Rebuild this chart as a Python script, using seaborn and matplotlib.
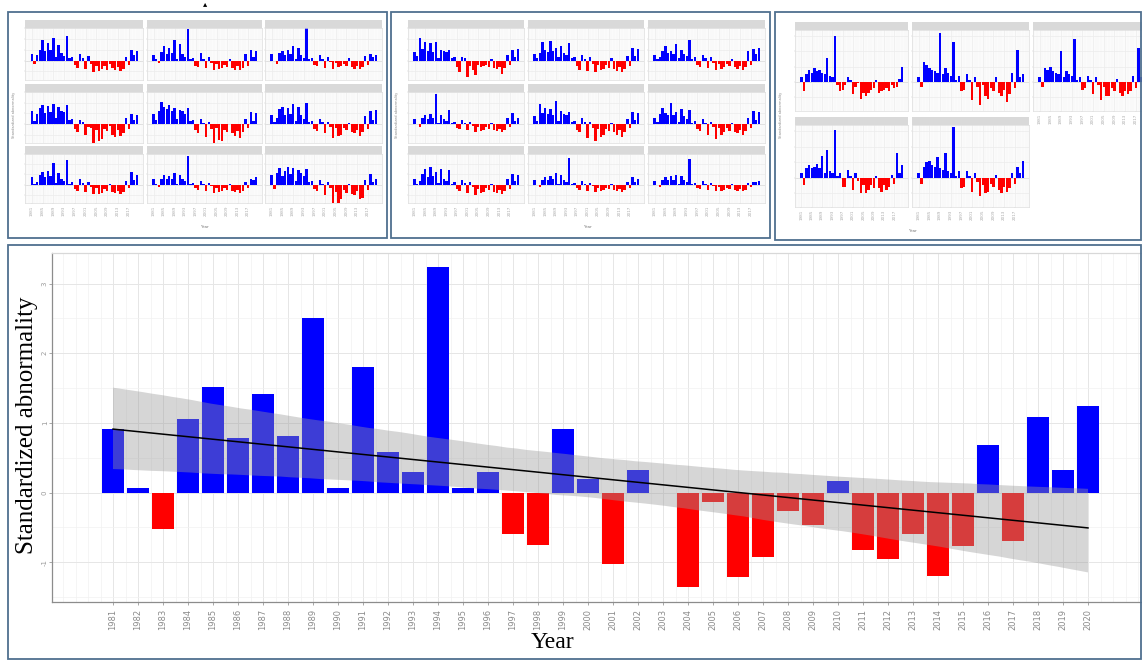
import numpy as np
import pandas as pd
import matplotlib
matplotlib.use("Agg")
import matplotlib.pyplot as plt
from matplotlib.patches import Rectangle
from matplotlib.ticker import MultipleLocator
import seaborn as sns

# ---------------- data ----------------
years = list(range(1981, 2021))
main_values = [0.91, 0.06, -0.52, 1.06, 1.52, 0.78, 1.42, 0.82, 2.50, 0.07,
               1.81, 0.59, 0.30, 3.24, 0.06, 0.29, -0.59, -0.75, 0.92, 0.19,
               -1.02, 0.32, 0.00, -1.35, -0.13, -1.21, -0.92, -0.27, -0.47, 0.16,
               -0.83, -0.95, -0.60, -1.19, -0.76, 0.68, -0.70, 1.09, 0.33, 1.25]

a1 = [0.6,-0.3,0.5,1.0,1.9,0.9,1.6,1.0,2.1,0.3,1.4,0.7,0.4,2.3,0.2,0.3,-0.4,-0.7,0.6,0.2,-0.8,0.4,-0.3,-1.1,-0.5,-1.0,-0.8,-0.5,-0.9,-0.3,-0.7,-0.9,-0.6,-1.0,-0.8,0.3,-0.4,1.0,0.5,0.9]
a2 = [0.5,0.1,-0.2,0.8,1.3,0.6,1.2,0.7,1.9,0.1,1.5,0.6,0.3,2.9,0.1,0.2,-0.5,-0.6,0.7,0.1,-0.7,0.3,-0.2,-0.9,-0.3,-0.8,-0.7,-0.4,-0.6,0.1,-0.7,-0.9,-0.5,-0.9,-0.7,0.6,-0.5,1.0,0.3,0.9]
a3 = [0.6,0.0,-0.3,0.7,0.9,0.5,1.0,0.6,1.3,0.1,1.2,0.5,0.2,3.1,0.1,0.2,-0.4,-0.5,0.5,0.1,-0.7,0.3,-0.1,-0.8,-0.2,-0.6,-0.5,-0.3,-0.5,0.2,-0.6,-0.8,-0.5,-0.8,-0.6,0.4,-0.4,0.6,0.3,0.5]
a4 = [1.2,0.3,0.9,1.5,1.8,1.0,1.7,1.1,1.9,0.6,1.6,1.2,1.1,1.8,0.4,0.5,-0.5,-0.8,0.4,0.2,-1.0,-0.3,-0.4,-1.8,-0.6,-1.6,-1.4,-0.5,-0.7,-0.2,-1.0,-1.2,-0.6,-1.1,-0.9,0.6,-0.5,0.9,0.4,0.8]
a5 = [0.9,0.4,1.2,2.1,1.6,1.4,1.8,1.2,1.5,0.5,1.3,1.2,0.9,1.5,0.3,0.4,-0.6,-0.9,0.5,0.1,-1.2,0.2,-0.5,-1.9,-0.4,-1.5,-1.6,-0.6,-0.8,0.0,-0.9,-1.1,-0.7,-1.3,-0.8,0.5,-0.4,1.1,0.3,1.0]
a6 = [0.8,0.2,0.6,1.4,1.6,0.8,1.5,0.9,1.9,0.3,1.6,0.8,0.5,2.0,0.2,0.3,-0.5,-0.7,0.5,0.2,-0.9,0.2,-0.3,-1.3,-0.4,-1.1,-1.0,-0.4,-0.6,0.1,-0.8,-0.9,-0.6,-1.1,-0.8,0.7,-0.5,1.2,0.4,1.3]
a7 = [0.7,0.1,0.3,0.9,1.2,0.7,1.3,0.8,2.1,0.2,1.1,0.6,0.4,2.4,0.1,0.3,-0.4,-0.6,0.6,0.2,-0.7,0.3,-0.2,-0.9,-0.3,-0.9,-0.8,-0.4,-0.6,0.1,-0.7,-0.8,-0.6,-0.9,-0.7,0.4,-0.3,1.2,0.5,0.9]
a8 = [0.6,0.1,-0.2,0.6,0.9,0.6,0.8,0.6,1.1,0.1,0.9,0.6,0.4,2.8,0.1,0.2,-0.3,-0.5,0.4,0.1,-0.6,0.2,-0.1,-0.8,-0.3,-0.7,-0.6,-0.3,-0.5,0.1,-0.6,-0.7,-0.5,-0.8,-0.6,0.3,-0.3,0.6,0.5,0.7]
a9 = [0.9,-0.4,1.1,1.6,0.8,1.3,1.7,1.0,1.6,0.4,1.4,1.1,0.8,1.5,0.3,0.4,-0.4,-0.6,0.5,0.1,-1.0,0.3,-0.3,-2.0,-0.7,-1.9,-1.4,-0.5,-0.8,0.1,-0.9,-1.0,-0.6,-1.4,-1.3,0.5,-0.5,1.0,0.3,0.6]

b1 = [0.8,0.4,2.1,1.1,1.7,0.9,1.6,0.8,1.7,0.2,1.0,0.9,0.8,1.0,0.2,0.3,-0.6,-1.1,0.3,0.2,-1.5,-0.5,-0.9,-1.3,-0.4,-0.6,-0.5,-0.4,-0.6,0.1,-0.7,-0.8,-0.6,-1.2,-0.7,0.5,-0.4,1.0,0.3,1.1]
b2 = [0.6,0.2,0.7,1.7,1.0,0.8,1.8,0.9,1.2,0.3,1.3,0.7,0.5,1.6,0.2,0.3,-0.5,-0.9,0.5,0.1,-1.0,0.3,-0.3,-1.1,-0.4,-0.9,-0.8,-0.4,-0.7,0.2,-0.8,-1.0,-0.6,-1.1,-0.8,0.4,-0.5,1.2,0.4,1.1]
b3 = [0.5,0.1,0.3,0.9,1.3,0.7,0.9,0.6,1.5,0.2,1.0,0.6,0.4,1.9,0.1,0.3,-0.4,-0.6,0.5,0.2,-0.7,0.3,-0.2,-0.9,-0.3,-0.8,-0.6,-0.3,-0.5,0.1,-0.6,-0.8,-0.5,-0.9,-0.6,0.9,-0.4,1.1,0.6,1.2]
b4 = [0.5,0.0,-0.3,0.6,0.8,0.5,0.9,0.6,2.8,0.1,0.8,0.5,0.3,1.3,0.1,0.2,-0.4,-0.5,0.4,0.1,-0.6,0.2,-0.2,-0.8,-0.3,-0.7,-0.6,-0.3,-0.5,0.1,-0.6,-0.7,-0.5,-0.8,-0.6,0.6,-0.3,1.0,0.3,0.6]
b5 = [0.7,0.3,1.9,1.0,1.5,0.9,1.4,0.8,2.2,0.3,1.2,0.9,0.8,1.1,0.2,0.3,-0.6,-0.8,0.6,0.2,-1.3,0.2,-0.4,-1.6,-0.5,-1.2,-1.0,-0.5,-0.7,0.1,-0.8,-1.0,-0.6,-1.2,-0.8,0.5,-0.4,1.1,0.4,1.0]
b6 = [0.6,0.2,0.9,1.5,1.0,0.8,2.0,0.8,1.1,0.2,1.4,0.7,0.5,1.3,0.1,0.3,-0.5,-0.7,0.5,0.1,-1.0,0.2,-0.3,-1.4,-0.4,-1.0,-0.8,-0.4,-0.7,0.1,-0.8,-0.9,-0.6,-1.0,-0.7,0.6,-0.4,1.2,0.4,1.1]
b7 = [0.6,0.1,0.4,1.0,1.5,0.7,1.7,0.8,1.2,0.2,1.5,0.6,0.4,1.4,0.1,0.3,-0.4,-0.6,0.5,0.2,-0.8,0.3,-0.2,-1.0,-0.4,-0.8,-0.7,-0.3,-0.5,0.1,-0.7,-0.8,-0.5,-0.9,-0.6,0.6,-0.4,1.0,0.4,0.9]
b8 = [0.5,0.0,-0.2,0.5,0.7,0.5,0.8,0.6,1.1,0.1,0.9,0.5,0.3,2.6,0.1,0.2,-0.3,-0.5,0.4,0.1,-0.6,0.2,-0.1,-0.7,-0.3,-0.6,-0.5,-0.3,-0.4,0.1,-0.5,-0.6,-0.4,-0.7,-0.5,0.3,-0.3,0.7,0.3,0.6]
b9 = [0.4,0.0,-0.2,0.5,0.7,0.5,0.8,0.5,0.9,0.1,0.8,0.5,0.3,2.5,0.1,0.2,-0.3,-0.4,0.4,0.1,-0.5,0.2,-0.1,-0.6,-0.2,-0.6,-0.5,-0.3,-0.4,0.1,-0.5,-0.6,-0.4,-0.6,-0.5,0.2,-0.2,0.3,0.3,0.4]

c1 = [0.3,-0.6,0.5,0.8,0.6,0.9,0.7,0.8,0.6,0.5,1.6,0.4,0.3,3.0,-0.2,-0.6,-0.5,-0.2,0.3,0.1,-0.8,-0.3,-0.1,-1.1,-0.7,-0.9,-0.7,-0.5,-0.4,0.1,-0.7,-0.6,-0.5,-0.4,-0.6,-0.2,-0.4,-0.3,0.2,1.0]
c2 = [0.3,-0.3,1.3,1.1,0.9,0.8,0.7,0.6,3.2,0.5,0.9,0.6,0.4,2.6,0.1,0.4,-0.6,-0.5,0.5,0.1,-1.2,0.3,-0.3,-1.5,-0.2,-0.9,-1.1,-0.4,-0.6,0.3,-0.7,-0.9,-0.5,-1.3,-0.8,0.6,-0.4,2.1,0.3,0.5]
c3 = [0.3,-0.3,0.9,0.8,1.0,0.7,0.6,0.5,2.0,0.3,0.7,0.5,0.4,2.8,0.1,0.3,-0.5,-0.4,0.4,0.1,-0.8,0.3,-0.2,-1.2,-0.3,-0.9,-0.9,-0.4,-0.6,0.2,-0.7,-0.9,-0.6,-0.8,-0.6,0.4,-0.4,2.2,0.3,0.6]
c4 = [0.3,-0.5,0.6,0.8,0.6,0.7,0.9,0.6,1.4,0.3,1.8,0.4,0.3,3.1,0.1,0.3,-0.6,-0.6,0.5,0.1,-0.8,0.3,-0.2,-1.0,-0.5,-1.0,-0.8,-0.5,-0.7,0.1,-0.7,-0.9,-0.5,-0.8,-0.6,0.2,-0.4,1.6,0.3,0.8]
c5 = [0.3,-0.4,0.7,1.0,1.1,0.8,0.7,1.3,0.6,0.5,1.6,0.4,0.3,3.3,0.1,0.4,-0.7,-0.6,0.4,0.1,-0.9,0.3,-0.3,-1.2,-0.5,-1.0,-0.9,-0.4,-0.6,0.2,-0.8,-1.0,-0.6,-0.9,-0.7,0.3,-0.4,0.7,0.3,1.1]

y_label = "Standardized abnormality"
x_label = "Year"

# ---------------- helpers ----------------
W, H = 1142, 660
PAL = {"pos": "#0000ff", "neg": "#ff0000"}
SERIF = ["Liberation Serif", "DejaVu Serif"]

fig = plt.figure(figsize=(W / 100, H / 100), dpi=100)
fig.patch.set_facecolor("white")


def px_axes(x0, y0, x1, y1, **kw):
    return fig.add_axes([x0 / W, 1 - y1 / H, (x1 - x0) / W, (y1 - y0) / H], **kw)


def draw_bars(ax, vals, width=0.9):
    df = pd.DataFrame({"Year": years, "value": vals})
    df["sign"] = np.where(df["value"] >= 0, "pos", "neg")
    sns.barplot(data=df, x="Year", y="value", hue="sign", hue_order=["pos", "neg"],
                palette=PAL, native_scale=True, dodge=False, width=width,
                errorbar=None, legend=False, saturation=1, linewidth=0, ax=ax)


def box(x0, y0, x1, y1, color="#4f6f8f", lw=1.3):
    fig.patches.append(Rectangle((x0 / W, 1 - y1 / H), (x1 - x0) / W, (y1 - y0) / H,
                                 transform=fig.transFigure, fill=False,
                                 edgecolor=color, linewidth=lw))


def facet(x0, y0, x1, y1, vals, ylim, show_x=False):
    st = px_axes(x0, y0 - 8, x1, y0)
    st.set_facecolor("#d9d9d9")
    st.set_xticks([]); st.set_yticks([])
    for s in st.spines.values():
        s.set_visible(False)
    ax = px_axes(x0, y0, x1, y1)
    ax.set_facecolor("#fbfbfb")
    draw_bars(ax, vals)
    ax.axhline(0, color="#999999", lw=0.4, zorder=0.5)
    ax.set_xlim(1978.5, 2022.3)
    ax.set_ylim(*ylim)
    ax.set_xticks(list(range(1981, 2021, 4)))
    ax.xaxis.set_minor_locator(MultipleLocator(1))
    ax.set_yticks([-1, 0, 1, 2, 3])
    ax.grid(True, which="major", color="#ececec", lw=0.5)
    ax.grid(True, which="minor", axis="x", color="#f3f3f3", lw=0.3)
    ax.set_axisbelow(True)
    ax.tick_params(which="major", length=1, width=0.3, colors="#c8c8c8", labelsize=2.5, pad=1)
    ax.tick_params(which="minor", length=0)
    ax.set_yticklabels([])
    if show_x:
        ax.set_xticklabels([str(y) for y in range(1981, 2021, 4)], rotation=90,
                           color="#aaaaaa", fontsize=3)
    else:
        ax.set_xticklabels([])
        ax.tick_params(axis="x", length=0)
    ax.set_xlabel(""); ax.set_ylabel("")
    for s in ax.spines.values():
        s.set_color("#dddddd"); s.set_linewidth(0.5)
    return ax


# ---------------- top thumbnails ----------------
box(8, 12, 387, 238)
box(391, 12, 770, 238)
box(775, 12, 1141, 240)

rows_ab = [(28, 80), (92, 143), (154, 203)]
cols_a = [(25, 143), (147, 262), (265, 382)]
cols_b = [(408, 524), (528, 644), (648, 765)]
ylim_ab = (-1.8, 2.8)
a_list = [a1, a2, a3, a4, a5, a6, a7, a8, a9]
b_list = [b1, b2, b3, b4, b5, b6, b7, b8, b9]
for i, (r0, r1) in enumerate(rows_ab):
    for j in range(3):
        facet(cols_a[j][0], r0, cols_a[j][1], r1, a_list[i * 3 + j], ylim_ab, show_x=(i == 2))
        facet(cols_b[j][0], r0, cols_b[j][1], r1, b_list[i * 3 + j], ylim_ab, show_x=(i == 2))

cols_c = [(795, 908), (912, 1029), (1033, 1150)]
rows_c = [(30, 111), (125, 207)]
ylim_c = (-1.9, 3.4)
facet(cols_c[0][0], rows_c[0][0], cols_c[0][1], rows_c[0][1], c1, ylim_c)
facet(cols_c[1][0], rows_c[0][0], cols_c[1][1], rows_c[0][1], c2, ylim_c)
facet(cols_c[2][0], rows_c[0][0], cols_c[2][1], rows_c[0][1], c3, ylim_c, show_x=True)
facet(cols_c[0][0], rows_c[1][0], cols_c[0][1], rows_c[1][1], c4, ylim_c, show_x=True)
facet(cols_c[1][0], rows_c[1][0], cols_c[1][1], rows_c[1][1], c5, ylim_c, show_x=True)

for (cx, cy) in [(204, 227), (587, 227), (912, 231)]:
    fig.text(cx / W, 1 - cy / H, x_label, fontsize=3, color="#777777", ha="center", va="center")
for (lx, ly) in [(14, 115), (397, 115), (781, 115)]:
    fig.text(lx / W, 1 - ly / H, y_label, fontsize=2.5, color="#888888", rotation=90,
             ha="center", va="center")
fig.text(205 / W, 1 - 4 / H, "\u25b4", fontsize=6, color="black", ha="center", va="center")

# ---------------- main chart ----------------
box(8, 245, 1141, 659)
ax = px_axes(52, 253, 1141, 602)
ax.set_facecolor("white")
draw_bars(ax, main_values, width=0.9)
sns.regplot(x=np.array(years, dtype=float), y=np.array(main_values), ax=ax, scatter=False,
            ci=95, n_boot=2000, seed=3, color="black", truncate=True,
            line_kws={"lw": 1.1, "zorder": 4})
for coll in ax.collections:
    coll.set_facecolor("#999999")
    coll.set_alpha(0.4)
    coll.set_edgecolor("none")
    coll.set_zorder(3)

ax.set_xlim(1978.56, 2022.12)
ax.set_ylim(-1.57, 3.44)
ax.set_xticks(years)
ax.set_xticklabels([str(y) for y in years], rotation=90, fontsize=6, color="#8a8a8a")
ax.xaxis.set_minor_locator(MultipleLocator(0.5))
ax.set_yticks([-1, 0, 1, 2, 3])
ax.set_yticklabels(["-1", "0", "1", "2", "3"], rotation=90, fontsize=5, color="#b5b5b5",
                   va="center")
ax.yaxis.set_minor_locator(MultipleLocator(0.5))
ax.grid(True, which="major", color="#e6e6e6", lw=0.7)
ax.grid(True, which="minor", color="#f1f1f1", lw=0.5)
ax.set_axisbelow(True)
ax.tick_params(axis="both", which="major", length=2, width=0.6, colors="#999999", pad=3)
ax.tick_params(axis="y", which="major", pad=1)
ax.tick_params(axis="x", which="major", labelcolor="#8a8a8a")
ax.tick_params(axis="both", which="minor", length=0)
ax.set_xlabel(""); ax.set_ylabel("")
ax.spines["left"].set_color("#8c8c8c")
ax.spines["bottom"].set_color("#8c8c8c")
ax.spines["top"].set_color("#d8d8d8")
ax.spines["right"].set_visible(False)
for s in ax.spines.values():
    s.set_linewidth(0.9)

fig.text(27 / W, 1 - 425 / H, y_label, family=SERIF, fontsize=18, rotation=90,
         ha="center", va="center", color="black")
fig.text(552 / W, 1 - 643 / H, x_label, family=SERIF, fontsize=17,
         ha="center", va="center", color="black")

fig.savefig("out.png", dpi=100, facecolor="white")
